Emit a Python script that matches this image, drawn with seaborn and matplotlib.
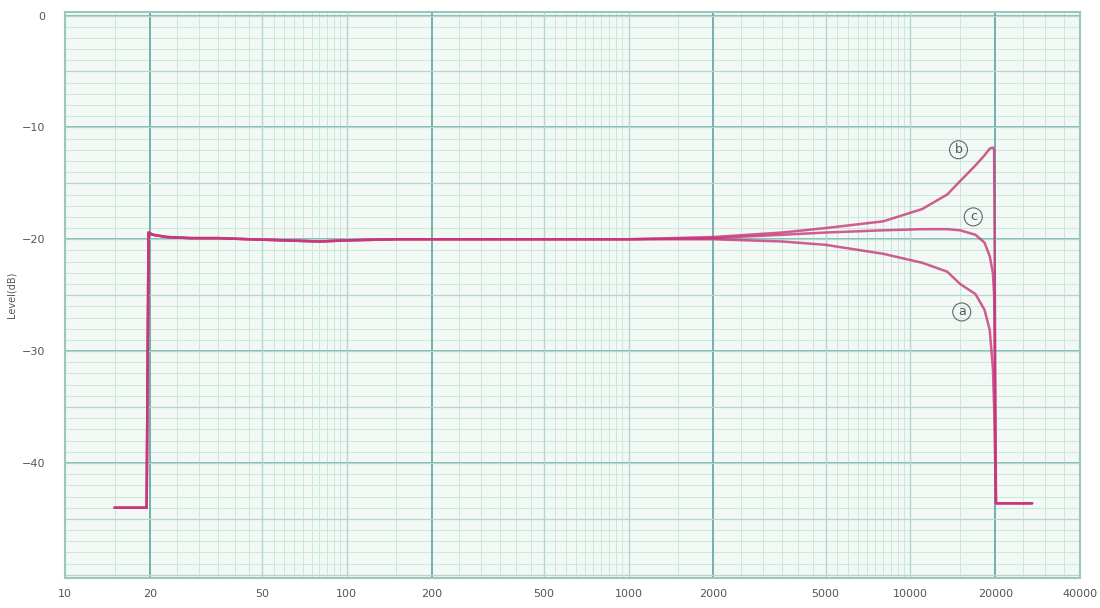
import numpy as np
import pandas as pd
import matplotlib
matplotlib.use("Agg")
import matplotlib.pyplot as plt
import seaborn as sns
from matplotlib.ticker import FixedLocator, NullFormatter, LogLocator

sns.set_theme(style="white")
plt.rcParams['font.family'] = ['DejaVu Sans']

# ---- data ----
freq = [15, 19.5, 19.8, 20.5, 23, 28, 35, 45, 60, 80, 100, 150, 200, 500, 1000,
        2000, 3500, 5000, 8000, 11000, 13500, 15000, 17000, 18300, 19100, 19600,
        19800, 20100, 27000]
curve_b = [-44.0, -44.0, -19.4, -19.6, -19.8, -19.9, -19.9, -20.0, -20.1, -20.2, -20.1, -20.0,
           -20.0, -20.0, -20.0, -19.8, -19.4, -19.0, -18.4, -17.3, -16.0, -14.8, -13.4,
           -12.5, -11.9, -11.8, -12.0, -43.6, -43.6]
curve_c = [-44.0, -44.0, -19.4, -19.6, -19.8, -19.9, -19.9, -20.0, -20.1, -20.2, -20.1, -20.0,
           -20.0, -20.0, -20.0, -19.9, -19.6, -19.4, -19.2, -19.1, -19.1, -19.2, -19.6,
           -20.3, -21.5, -23.0, -25.0, -43.6, -43.6]
curve_a = [-44.0, -44.0, -19.4, -19.6, -19.8, -19.9, -19.9, -20.0, -20.1, -20.2, -20.1, -20.0,
           -20.0, -20.0, -20.0, -20.0, -20.2, -20.5, -21.3, -22.1, -22.9, -24.0, -24.9,
           -26.3, -28.1, -31.5, -35.0, -43.6, -43.6]
series_names = ["b", "c", "a"]
x_ticks = [10, 20, 50, 100, 200, 500, 1000, 2000, 5000, 10000, 20000, 40000]
y_ticks = [0, -10, -20, -30, -40]
y_label = "Level(dB)"

frames = []
for name, vals in zip(series_names, [curve_b, curve_c, curve_a]):
    frames.append(pd.DataFrame({"freq": freq, "level": vals, "curve": name}))
df = pd.concat(frames, ignore_index=True)

fig = plt.figure(figsize=(11, 6.08), dpi=100)
ax = fig.add_axes([0.059, 0.049, 0.923, 0.931])
ax.set_facecolor("#f2f8f4")

sns.lineplot(data=df, x="freq", y="level", units="curve", estimator=None, sort=False,
             color="#c8367a", linewidth=1.8, alpha=0.8, ax=ax, legend=False)

ax.set_xscale("log")
ax.set_xlim(10, 40000)
ax.set_ylim(-50.3, 0.3)

# graph-paper grid
ax.xaxis.set_major_locator(FixedLocator(x_ticks))
ax.xaxis.set_minor_locator(LogLocator(base=10, subs=np.arange(1.0, 10.0, 0.5), numticks=50))
ax.xaxis.set_minor_formatter(NullFormatter())
ax.set_xticklabels([str(t) for t in x_ticks])
ax.yaxis.set_major_locator(FixedLocator(y_ticks))
ax.yaxis.set_minor_locator(FixedLocator(np.arange(-50, 0.1, 1.0)))
ax.grid(which="minor", color="#cae6da", linewidth=0.7)
ax.grid(which="major", axis="y", color="#6aa9ad", linewidth=1.1)
for xv in [20, 200, 2000, 20000]:
    ax.axvline(xv, color="#6aa9ad", linewidth=1.3, zorder=1)
for xv in [50, 100, 500, 1000, 5000, 10000]:
    ax.axvline(xv, color="#b3d7cd", linewidth=1.0, zorder=1)
for yv in np.arange(-50, 0.1, 5.0):
    ax.axhline(yv, color="#b3d7cd", linewidth=0.9, zorder=1)

for s in ax.spines.values():
    s.set_color("#9cc7bd")
    s.set_linewidth(1.5)

ax.tick_params(axis="both", which="both", length=0, labelsize=8, labelcolor="#555555")
ax.tick_params(axis="x", pad=8)
ax.tick_params(axis="y", pad=14)
ax.set_xlabel("")
ax.set_ylabel(y_label, fontsize=7, color="#555555", labelpad=4)

# circled curve labels
for txt, (fx, fy) in zip(series_names, [(14800, -12.0), (16700, -18.0), (15200, -26.5)]):
    ax.text(fx, fy, txt, fontsize=9, color="#555555", ha="center", va="center",
            bbox=dict(boxstyle="circle,pad=0.2", fc="none", ec="#666666", lw=0.8))

fig.savefig("out.png", dpi=100)
